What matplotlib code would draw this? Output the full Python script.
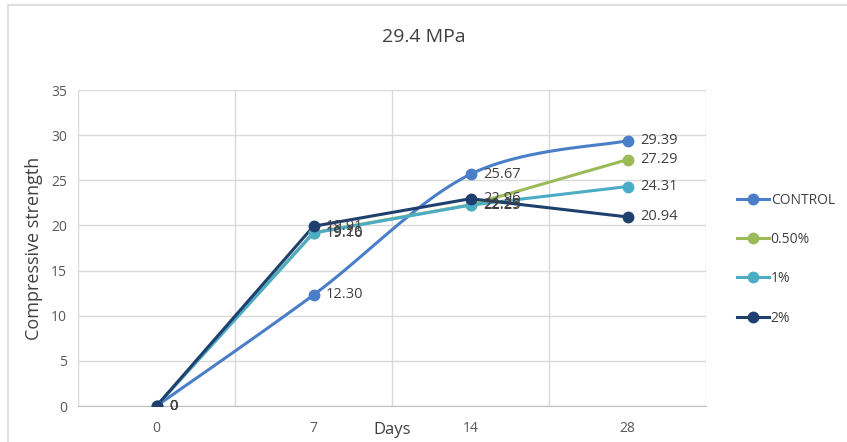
import matplotlib.pyplot as plt
from matplotlib.patches import Rectangle
import numpy as np

plt.rcParams['font.family'] = ['Open Sans', 'DejaVu Sans']

days = ['0', '7', '14', '28']
control = [0, 12.30, 25.67, 29.39]
pct_050 = [0, 19.20, 22.29, 27.29]
pct_1 = [0, 19.16, 22.25, 24.31]
pct_2 = [0, 19.91, 22.96, 20.94]

series_names = ['CONTROL', '0.50%', '1%', '2%']
series_values = [control, pct_050, pct_1, pct_2]
colors = ['#4A7EC8', '#9BBB59', '#4BACC6', '#1F3F6E']
smoothed = [True, False, False, False]


def smooth(xs, ys, k=1 / 6, n=40):
    # Excel-like smoothed line (bezier through the points)
    pts = np.column_stack([xs, ys]).astype(float)
    ext = np.vstack([pts[0], pts, pts[-1]])
    out = []
    for i in range(len(pts) - 1):
        p0, p1, p2, p3 = ext[i], ext[i + 1], ext[i + 2], ext[i + 3]
        c1 = p1 + (p2 - p0) * k
        c2 = p2 - (p3 - p1) * k
        t = np.linspace(0, 1, n)[:, None]
        seg = ((1 - t) ** 3) * p1 + 3 * ((1 - t) ** 2) * t * c1 + 3 * (1 - t) * t ** 2 * c2 + t ** 3 * p2
        out.append(seg if i == 0 else seg[1:])
    out = np.vstack(out)
    return out[:, 0], out[:, 1]


fig = plt.figure(figsize=(8.47, 4.42), dpi=100)
ax = fig.add_axes([78 / 847, 1 - 406 / 442, (706 - 78) / 847, (406 - 90) / 442])

# chart border
fig.patches.append(Rectangle((8 / 847, -0.05), 1.1, 1 - 5 / 442 + 0.05, transform=fig.transFigure,
                             fill=False, edgecolor='#D9D9D9', linewidth=1.2))

x = np.arange(len(days))
for name, vals, c, sm in zip(series_names, series_values, colors, smoothed):
    if sm:
        sx, sy = smooth(x, vals)
    else:
        sx, sy = x, vals
    ax.plot(sx, sy, color=c, linewidth=2.2, solid_capstyle='round', solid_joinstyle='round', zorder=3)
    ax.plot(x, vals, linestyle='none', marker='o', markersize=7.5, color=c, zorder=4)
    ax.plot([], [], color=c, linewidth=2.2, marker='o', markersize=7.5, label=name)
    for xi, v in zip(x, vals):
        txt = '0' if v == 0 else f'{v:.2f}'
        ax.annotate(txt, (xi, v), xytext=(9, 0), textcoords='offset points',
                    va='center', ha='left', fontsize=10.5, color='#404040', zorder=5)

ax.set_xlim(-0.5, 3.5)
ax.set_ylim(0, 35)
ax.set_yticks(range(0, 36, 5))
ax.set_xticks(x)
ax.set_xticklabels(days)
ax.set_xticks(np.arange(-0.5, 3.6, 1), minor=True)
ax.grid(True, axis='y', color='#D9D9D9', linewidth=1)
ax.grid(True, axis='x', which='minor', color='#D9D9D9', linewidth=1)
ax.tick_params(axis='both', which='both', length=0, labelsize=10, labelcolor='#595959')
ax.tick_params(axis='x', pad=11)
ax.tick_params(axis='y', pad=8)
for s in ['top', 'right', 'left']:
    ax.spines[s].set_visible(False)
ax.spines['bottom'].set_color('#BFBFBF')
ax.set_axisbelow(True)

ax.set_ylabel('Compressive strength', fontsize=13, color='#404040', labelpad=6)
ax.set_xlabel('Days', fontsize=12, color='#404040', labelpad=-10)
fig.text(0.5, 1 - 37 / 442, '29.4 MPa', ha='center', va='center', fontsize=14, color='#404040')

leg = ax.legend(loc='center left', bbox_to_anchor=(1.03, 0.465), frameon=False, fontsize=10,
                labelspacing=1.75, handlelength=2.3, handletextpad=0.1, labelcolor='#404040')

fig.savefig('out.png', dpi=100)
